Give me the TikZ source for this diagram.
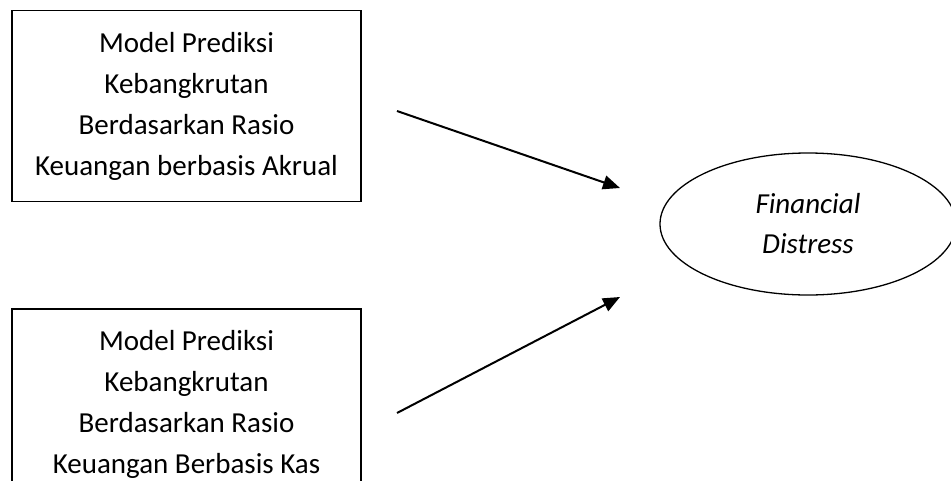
\documentclass[tikz,border=0pt]{standalone}
\usepackage{fontspec}
\setmainfont{Carlito}
\usetikzlibrary{shapes.geometric,arrows.meta}
\tikzset{
  modelbox/.style={draw=black, line width=1.3pt, rectangle, inner sep=0pt,
    minimum width=349pt, minimum height=191pt, align=center,
    font=\fontsize{29}{41}\selectfont},
  outcome/.style={draw=black, line width=1.3pt, ellipse, inner sep=0pt,
    minimum width=296pt, minimum height=142pt, align=center,
    font=\fontsize{29}{40}\selectfont\itshape},
  link/.style={draw=black, line width=2pt,
    -{Triangle[length=17pt,width=14pt]}}
}
\begin{document}
\begin{tikzpicture}[x=1pt,y=-1pt]
  \path[use as bounding box, clip] (0,0) rectangle (951,480);
  \fill[white] (0,0) rectangle (951,480);

  % the two prediction models
  \node[modelbox] (akrual) at (186.5,106.3)
    {Model Prediksi\\Kebangkrutan\\Berdasarkan Rasio\\Keuangan berbasis Akrual};
  \node[modelbox] (kas) at (186.5,404.5)
    {Model Prediksi\\Kebangkrutan\\Berdasarkan Rasio\\Keuangan Berbasis Kas};

  % the outcome
  \node[outcome] (fd) at (808,224) {Financial\\Distress};

  % arrow end points
  \coordinate (akrualout) at (397,111);
  \coordinate (fdin1) at (620,188);
  \coordinate (kasout) at (397,413);
  \coordinate (fdin2) at (620,297);

  \draw[link] (akrualout) -- (fdin1);
  \draw[link] (kasout) -- (fdin2);
\end{tikzpicture}
\end{document}
